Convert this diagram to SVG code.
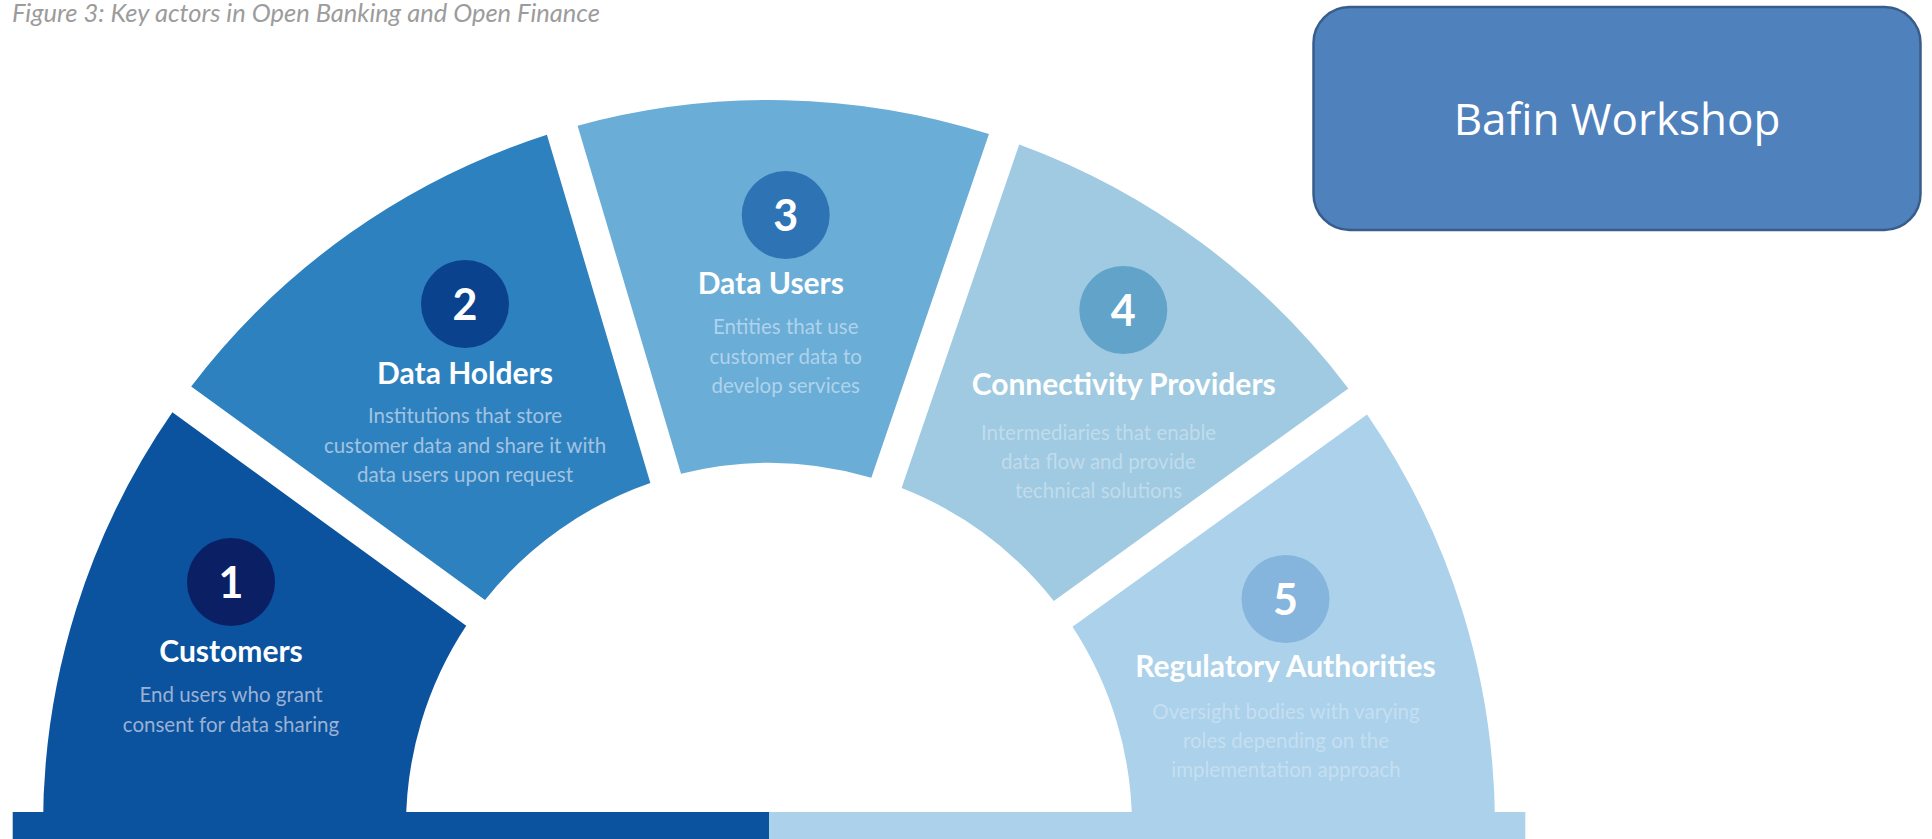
<svg xmlns="http://www.w3.org/2000/svg" width="1932" height="839" viewBox="0 0 1932 839">
<style>
.cap{font-family:Lato,"Liberation Sans",sans-serif;font-style:italic;font-size:25.5px;fill:#9c9c9c}
.num{font-family:Lato,"Liberation Sans",sans-serif;font-weight:700;font-size:43px;fill:#ffffff;text-anchor:middle}
.ttl{font-family:Lato,"Liberation Sans",sans-serif;font-weight:700;font-size:30px;fill:#ffffff;text-anchor:middle}
.dsc{font-family:Lato,"Liberation Sans",sans-serif;font-weight:400;font-size:20.5px;text-anchor:middle}
.bafin{font-family:"Open Sans","Liberation Sans",sans-serif;font-size:44px;fill:#ffffff;text-anchor:middle}
</style>
<rect width="1932" height="839" fill="#ffffff"/>
<text class="cap" x="12" y="22">Figure 3: Key actors in Open Banking and Open Finance</text>

<g id="base-bar">
<rect x="12.7" y="812" width="756.3" height="27" fill="#0b539f"/>
<rect x="769" y="812" width="756.3" height="27" fill="#abd1eb"/>
</g>

<g id="node-1">
<path d="M 43 826 A 726 726 0 0 1 172.39 412.32 L 466.21 625.78 A 363 363 0 0 0 406 826 Z" fill="#0b539f"/>
<circle cx="231" cy="582" r="44" fill="#0a1f64"/>
<text class="num" x="231" y="597.5">1</text>
<text class="ttl" x="231" y="661.7">Customers</text>
<g class="dsc" fill="#9bb1d2">
<text x="231" y="701.7">End users who grant</text>
<text x="231" y="731.5">consent for data sharing</text>
</g>
</g>

<g id="node-2">
<path d="M 191.20 386.43 A 726 726 0 0 1 546.91 134.80 L 650.36 482.93 A 363 363 0 0 0 485.02 599.90 Z" fill="#2e81bf"/>
<circle cx="465" cy="304" r="44" fill="#0b428d"/>
<text class="num" x="465" y="319.5">2</text>
<text class="ttl" x="465" y="384">Data Holders</text>
<g class="dsc" fill="#a2c3e0">
<text x="465" y="423.3">Institutions that store</text>
<text x="465" y="452.7">customer data and share it with</text>
<text x="465" y="481.5">data users upon request</text>
</g>
</g>

<g id="node-3">
<path d="M 577.58 125.69 A 726 726 0 0 1 988.96 134.12 L 871.33 477.72 A 363 363 0 0 0 681.03 473.82 Z" fill="#6aadd6"/>
<circle cx="785.7" cy="215" r="44" fill="#2e74b5"/>
<text class="num" x="785.7" y="230.5">3</text>
<text class="ttl" x="770.8" y="294.3">Data Users</text>
<g class="dsc" fill="#afd3eb">
<text x="785.7" y="334.3">Entities that use</text>
<text x="785.7" y="364">customer data to</text>
<text x="785.7" y="393">develop services</text>
</g>
</g>

<g id="node-4">
<path d="M 1019.24 144.49 A 726 726 0 0 1 1348.33 388.45 L 1053.77 600.89 A 363 363 0 0 0 901.60 488.09 Z" fill="#9fcae1"/>
<circle cx="1123.3" cy="310" r="44" fill="#62a3ca"/>
<text class="num" x="1123.3" y="325.5">4</text>
<text class="ttl" x="1123.7" y="395">Connectivity Providers</text>
<g class="dsc" fill="#c0dcec">
<text x="1098.5" y="440">Intermediaries that enable</text>
<text x="1098.5" y="469">data flow and provide</text>
<text x="1098.5" y="498">technical solutions</text>
</g>
</g>

<g id="node-5">
<path d="M 1367.05 414.40 A 726 726 0 0 1 1495 826 L 1132 826 A 363 363 0 0 0 1072.49 626.84 Z" fill="#abd1eb"/>
<circle cx="1285.5" cy="599" r="44" fill="#85b4dc"/>
<text class="num" x="1285.5" y="614.5">5</text>
<text class="ttl" x="1285.5" y="676.7">Regulatory Authorities</text>
<g class="dsc" fill="#c5dff1">
<text x="1286" y="719.3">Oversight bodies with varying</text>
<text x="1286" y="748">roles depending on the</text>
<text x="1286" y="777">implementation approach</text>
</g>
</g>

<g id="bafin-workshop">
<rect x="1313.5" y="7" width="607" height="223" rx="36" ry="36" fill="#4f81bd" stroke="#385d8a" stroke-width="2.5"/>
<text class="bafin" x="1617" y="135">Bafin Workshop</text>
</g>

<g id="connectors"/>
</svg>
